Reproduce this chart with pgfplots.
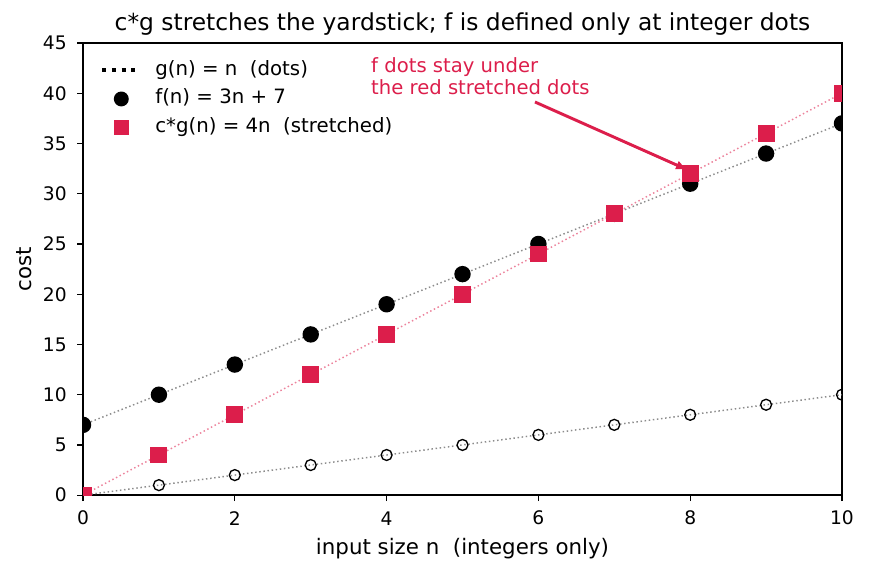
\documentclass[border=0pt]{standalone}
\usepackage{pgfplots}
\pgfplotsset{compat=1.18}
\usetikzlibrary{arrows.meta}
\usepackage{fontspec}
\setmainfont{DejaVu Sans}
\definecolor{cred}{RGB}{220,30,75}
\begin{document}
\begin{tikzpicture}
\begin{axis}[
  at={(0,0)}, anchor=south west,
  width=569pt, height=339pt, scale only axis,
  xmin=0, xmax=10, ymin=0, ymax=45,
  xtick={0,2,4,6,8,10}, ytick={0,5,...,45},
  tick align=outside, major tick length=4.5pt,
  tick style={black, line width=1pt},
  xtick pos=bottom, ytick pos=left,
  axis line style={line width=1.5pt},
  /pgf/number format/assume math mode=true,
  tick label style={font=\fontsize{14}{16}\selectfont},
  xticklabel style={anchor=center, yshift=-12.75pt},
  yticklabel style={anchor=east, xshift=-7.5pt, inner sep=0pt},
  label style={font=\fontsize{16}{19}\selectfont},
  title style={font=\fontsize{17.5}{20}\selectfont, at={(axis description cs:0.5,1)}, anchor=center, yshift=8.25pt},
  title={c*g stretches the yardstick; f is defined only at integer dots},
  xlabel={input size n\ \ (integers only)},
  ylabel={cost},
  xlabel style={at={(axis description cs:0.5,0)}, anchor=center, yshift=-39.75pt},
  ylabel style={at={(axis description cs:0,0.5)}, anchor=center, yshift=44pt},
  clip=true, clip marker paths=true,
  legend style={draw=none, fill=none, at={(axis description cs:0,1)}, anchor=north west,
    xshift=12.75pt, yshift=-13pt, inner sep=0pt,
    nodes={inner sep=0pt, text height=11pt, text depth=3.5pt},
    font=\fontsize{14.8}{17}\selectfont, row sep=7pt, cells={anchor=west},
    /tikz/every odd column/.append style={column sep=9.75pt}},
  legend cell align=left,
]
\addplot[gray!110!black, dotted, line width=1.1pt, mark=o, mark size=4.1pt,
  mark options={solid, black, line width=1pt},
  legend image code/.code={\path[draw=none] (0pt,0pt) -- (28.5pt,0pt);
    \pgfsetlinewidth{3pt}\pgfsetdash{{3pt}{4.2pt}}{0pt}\pgfsetstrokecolor{black}
    \pgfpathmoveto{\pgfpoint{0pt}{0pt}}\pgfpathlineto{\pgfpoint{28.5pt}{0pt}}\pgfusepath{stroke}}]
  coordinates {(0,0) (1,1) (2,2) (3,3) (4,4) (5,5) (6,6) (7,7) (8,8) (9,9) (10,10)};
\addlegendentry{g(n) = n\ \ (dots)}
\addplot[gray!110!black, dotted, line width=1.1pt, mark=*, mark size=5.6pt,
  mark options={solid, black},
  legend image code/.code={\path[draw=none] (0pt,0pt) -- (28.5pt,0pt); \fill[black, draw=none] (14.25pt,0pt) circle (5.6pt);}]
  coordinates {(0,7) (1,10) (2,13) (3,16) (4,19) (5,22) (6,25) (7,28) (8,31) (9,34) (10,37)};
\addlegendentry{f(n) = 3n + 7}
\addplot[cred!55, dotted, line width=1.1pt, mark=square*, mark size=5.8pt,
  mark options={solid, cred},
  legend image code/.code={\path[draw=none] (0pt,0pt) -- (28.5pt,0pt); \fill[cred, draw=none] (14.25pt-5.8pt,-5.8pt) rectangle (14.25pt+5.8pt,5.8pt);}]
  coordinates {(0,0) (1,4) (2,8) (3,12) (4,16) (5,20) (6,24) (7,28) (8,32) (9,36) (10,40)};
\addlegendentry{c*g(n) = 4n\ \ (stretched)}
\node[cred, anchor=north west, align=left, font=\fontsize{14.7}{16.5}\selectfont, inner sep=0pt]
  at (axis cs:3.794,43.6) {f dots stay under\\the red stretched dots};
\draw[cred, line width=2.2pt, -{Latex[length=9pt,width=7pt]}] (axis cs:5.955,39.13) -- (axis cs:7.97,32.36);
\end{axis}
\pgfresetboundingbox
\path (-62.25pt,-57pt) rectangle (589.25pt,371.25pt);
\end{tikzpicture}
\end{document}
